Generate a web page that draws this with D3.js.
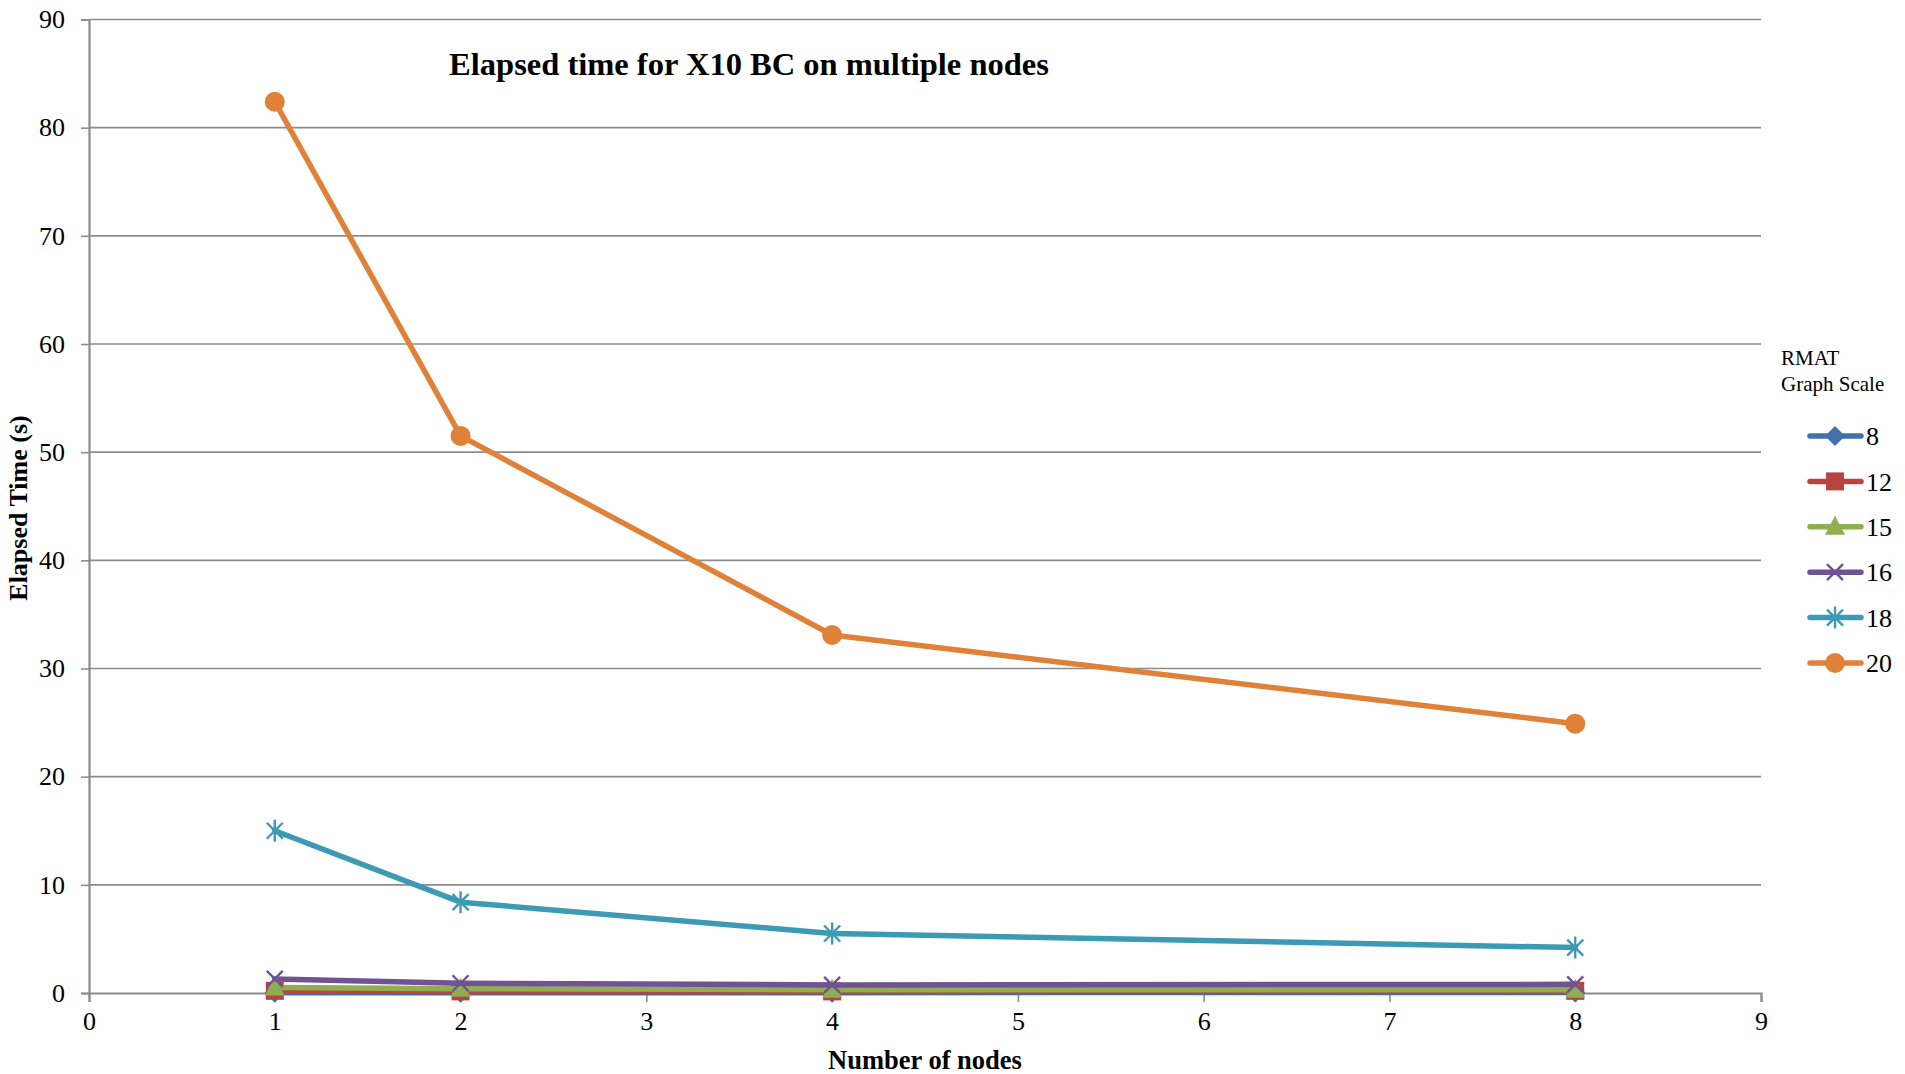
<!DOCTYPE html>
<html>
<head>
<meta charset="utf-8">
<script src="https://cdnjs.cloudflare.com/ajax/libs/d3/7.8.5/d3.min.js"></script>
<style>
  html, body { margin: 0; padding: 0; background: #fff; }
  svg { display: block; }
  text { font-family: "Liberation Serif", "Times New Roman", serif; fill: #000; }
</style>
</head>
<body>
<svg id="chart" width="1905" height="1074"></svg>
<script>
// ---- data ----
const nodes = [1, 2, 4, 8];
const seriesNames = ["8", "12", "15", "16", "18", "20"];
const s8  = [0.02, 0.02, 0.03, 0.05];
const s12 = [0.2, 0.15, 0.15, 0.2];
const s15 = [0.5, 0.4, 0.3, 0.3];
const s16 = [1.3, 0.9, 0.75, 0.8];
const s18 = [15.0, 8.4, 5.5, 4.2];
const s20 = [82.4, 51.5, 33.1, 24.9];
const seriesValues = [s8, s12, s15, s16, s18, s20];
const xTicks = [0, 1, 2, 3, 4, 5, 6, 7, 8, 9];
const yTicks = [0, 10, 20, 30, 40, 50, 60, 70, 80, 90];
const titleText = "Elapsed time for X10 BC on multiple nodes";
const xLabel = "Number of nodes";
const yLabel = "Elapsed Time (s)";
const legendTitle = ["RMAT", "Graph Scale"];

// ---- styles ----
const colors = ["#4170ab", "#b8433f", "#8fae4f", "#6f5393", "#3c9ab4", "#e0813a"];
const markers = ["diamond", "square", "triangle", "x", "asterisk", "circle"];
const gridColor = "#8c8c8c";

const svg = d3.select("#chart");
const x = d3.scaleLinear().domain([0, 9]).range([89, 1761]);
const y = d3.scaleLinear().domain([0, 90]).range([993, 19.5]);

// gridlines
svg.append("g").selectAll("line").data(yTicks.filter(d => d > 0)).join("line")
  .attr("x1", x(0)).attr("x2", x(9))
  .attr("y1", d => y(d)).attr("y2", d => y(d))
  .attr("stroke", gridColor).attr("stroke-width", 1.6);

// axes
const xAxis = svg.append("g").attr("transform", `translate(0,${y(0)})`)
  .call(d3.axisBottom(x).tickValues(xTicks).tickSize(9).tickPadding(10).tickFormat(d3.format("d")));
const yAxis = svg.append("g").attr("transform", `translate(${x(0)},0)`)
  .call(d3.axisLeft(y).tickValues(yTicks).tickSize(8).tickPadding(16).tickFormat(d3.format("d")));
[xAxis, yAxis].forEach(g => {
  g.select(".domain").attr("stroke", gridColor).attr("stroke-width", 2.2);
  g.selectAll(".tick line").attr("stroke", gridColor).attr("stroke-width", 1.6);
  g.selectAll(".tick text").attr("font-family", "Liberation Serif, serif").attr("font-size", 26).attr("fill", "#000");
});

// marker drawing
function drawMarker(g, type, color) {
  if (type === "circle") {
    g.append("circle").attr("r", 10).attr("fill", color);
  } else if (type === "square") {
    g.append("rect").attr("x", -9).attr("y", -9).attr("width", 18).attr("height", 18).attr("fill", color);
  } else if (type === "diamond") {
    g.append("path").attr("d", "M0,-10L10,0L0,10L-10,0Z").attr("fill", color);
  } else if (type === "triangle") {
    g.append("path").attr("d", "M0,-11L10,8L-10,8Z").attr("fill", color);
  } else if (type === "x") {
    g.append("path").attr("d", "M-8,-8L8,8M-8,8L8,-8").attr("stroke", color).attr("stroke-width", 2.4).attr("fill", "none");
  } else if (type === "asterisk") {
    g.append("path").attr("d", "M-8,-8L8,8M-8,8L8,-8M0,-11L0,11").attr("stroke", color).attr("stroke-width", 2.4).attr("fill", "none");
  }
}

// series
const line = d3.line().x((d, i) => x(nodes[i])).y(d => y(d));
seriesValues.forEach((vals, si) => {
  const g = svg.append("g");
  g.append("path").datum(vals).attr("d", line)
    .attr("fill", "none").attr("stroke", colors[si]).attr("stroke-width", 5.5)
    .attr("stroke-linejoin", "round").attr("stroke-linecap", "round");
  vals.forEach((v, i) => {
    const mg = g.append("g").attr("transform", `translate(${x(nodes[i])},${y(v)})`);
    drawMarker(mg, markers[si], colors[si]);
  });
});

// title
svg.append("text").attr("x", 749).attr("y", 75).attr("text-anchor", "middle")
  .attr("font-size", 32.5).attr("font-weight", "bold").text(titleText);
// axis labels
svg.append("text").attr("x", 925).attr("y", 1069).attr("text-anchor", "middle")
  .attr("font-size", 26.5).attr("font-weight", "bold").text(xLabel);
svg.append("text").attr("transform", "translate(27,508) rotate(-90)").attr("text-anchor", "middle")
  .attr("font-size", 26).attr("font-weight", "bold").text(yLabel);

// legend
svg.append("text").attr("x", 1781).attr("y", 365).attr("font-size", 21).text(legendTitle[0]);
svg.append("text").attr("x", 1781).attr("y", 391).attr("font-size", 21).text(legendTitle[1]);
const legendY = d3.scalePoint().domain(seriesNames).range([436, 663]);
seriesNames.forEach((name, si) => {
  const ly = legendY(name);
  const g = svg.append("g");
  g.append("line").attr("x1", 1810).attr("x2", 1861).attr("y1", ly).attr("y2", ly)
    .attr("stroke", colors[si]).attr("stroke-width", 5.5).attr("stroke-linecap", "round");
  const mg = g.append("g").attr("transform", `translate(1835,${ly})`);
  drawMarker(mg, markers[si], colors[si]);
  g.append("text").attr("x", 1866).attr("y", ly).attr("dy", "0.35em").attr("font-size", 26).text(name);
});
</script>
</body>
</html>
